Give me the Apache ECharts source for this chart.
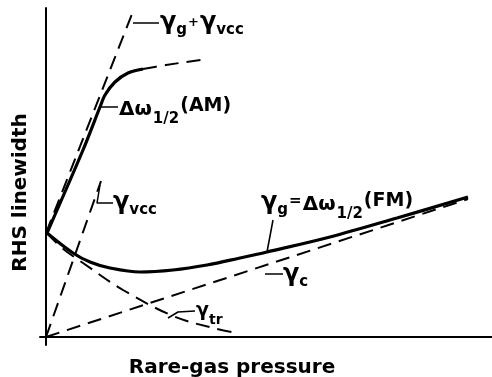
<!DOCTYPE html>
<html><head><meta charset="utf-8">
<script src="https://cdn.jsdelivr.net/npm/echarts@6/dist/echarts.min.js"></script>
<style>html,body{margin:0;padding:0;background:#fff}#c{width:492px;height:377px}</style>
</head><body><div id="c"></div>
<script>
// curves (arbitrary units: pressure on x, linewidth on y)
const sumLine  = [[0,104],[88,328]];                 // γg+γvcc
const amSolid  = [[1,104],[37,187],[54,230],[59,242],[69,255],[82,264],[97,268]];
const amDashed = [[97,268],[120,272],[161,278]];
const fmCurve  = [[1,104],[27,84],[44,75],[64,69],[94,65],[127,67],[161,72],[194,79],[221,85],[284,100],[351,119],[422,140]];
const gammaC   = [[0,0],[422,138]];
const gammaTr  = [[1,104],[16,89],[37,74],[77,47],[127,21],[167,9],[191,4]];
const gammaVcc = [[0,0],[55,156]];
// leader lines
const leaders = [
  [[87,314],[113,314]],
  [[55,230],[72,230]],
  [[54,152],[51,134],[67,134]],
  [[227,117],[221,85]],
  [[219,63],[237,63]],
  [[122,19],[132,25],[149,26]]
];
// labels: anchor (top-left) and rich text
const labelAnchors = [[114,326],[73,241],[67,146],[215,146],[237,74],[150,35]];
const labelTexts = [
  '{g|γ}{s|g}{p|+}{g|γ}{s|vcc}',
  '{d|Δω}{n|1/2}{a|(AM)}',
  '{g|γ}{s|vcc}',
  '{g|γ}{s|g}{e|=}{d|Δω}{n|1/2}{a|(FM)}',
  '{g|γ}{s|c}',
  '{t|γ}{u|tr}'
];
const xName = 'Rare-gas pressure';
const yName = 'RHS linewidth';

const F = 'DejaVu Sans';
const rich = {
  g: {fontFamily:F, fontWeight:'bold', fontSize:24, lineHeight:24, verticalAlign:'top', padding:[0,0,0,0]},
  s: {fontFamily:F, fontWeight:'bold', fontSize:15, lineHeight:15, verticalAlign:'top', padding:[12,0,0,0]},
  p: {fontFamily:F, fontWeight:'bold', fontSize:13, lineHeight:13, verticalAlign:'top', padding:[5,1,0,1]},
  e: {fontFamily:F, fontWeight:'bold', fontSize:15, lineHeight:15, verticalAlign:'top', padding:[3,1,0,1]},
  d: {fontFamily:F, fontWeight:'bold', fontSize:20, lineHeight:20, verticalAlign:'top', padding:[4,0,0,0]},
  n: {fontFamily:F, fontWeight:'bold', fontSize:15, lineHeight:15, verticalAlign:'top', padding:[16,0,0,1]},
  a: {fontFamily:F, fontWeight:'bold', fontSize:19, lineHeight:20, verticalAlign:'top', padding:[1,0,0,1]},
  t: {fontFamily:F, fontWeight:'bold', fontSize:19, lineHeight:19, verticalAlign:'top', padding:[0,0,0,0]},
  u: {fontFamily:F, fontWeight:'bold', fontSize:14, lineHeight:14, verticalAlign:'top', padding:[11,0,0,0]}
};

const chart = echarts.init(document.getElementById('c'));
const dash = {color:'#000', width:2, type:[14,8]};
const solid = {color:'#000', width:3.2};
function ln(data, style, smooth){
  return {type:'line', data, showSymbol:false, symbol:'none', silent:true, smooth: smooth||0, lineStyle:style, z: 3};
}
const series = [
  ln(sumLine, dash),
  ln(amSolid, solid, 0.3),
  ln(amDashed, dash, 0.3),
  ln(fmCurve, solid, 0.35),
  ln(gammaC, dash),
  ln(gammaTr, dash, 0.35),
  ln(gammaVcc, dash)
];
leaders.forEach(l => series.push(ln(l, {color:'#000', width:1.5})));

chart.setOption({
  animation:false,
  backgroundColor:'#fff',
  grid:{left:40, right:0, top:8, bottom:32, containLabel:false, outerBoundsMode:'none'},
  xAxis:{type:'value', min:-6, max:446, splitLine:{show:false}, axisTick:{show:false}, axisLabel:{show:false},
    axisLine:{onZero:true, lineStyle:{color:'#000', width:2}},
    name:xName, nameLocation:'middle', nameGap:13,
    nameTextStyle:{fontFamily:F, fontWeight:'bold', fontSize:20, color:'#000', padding:[0,68,0,0]}},
  yAxis:{type:'value', min:-8, max:329, splitLine:{show:false}, axisTick:{show:false}, axisLabel:{show:false},
    axisLine:{onZero:true, lineStyle:{color:'#000', width:2}},
    name:yName, nameLocation:'middle', nameGap:9,
    nameTextStyle:{fontFamily:F, fontWeight:'bold', fontSize:20, color:'#000', padding:[0,32,0,0]}},
  series
});

const graphic = labelAnchors.map((a, i) => {
  const p = chart.convertToPixel({gridIndex:0}, a);
  return {type:'text', x:p[0], y:p[1], z:10, silent:true,
    style:{text:labelTexts[i], rich, fill:'#000', align:'left', verticalAlign:'top',
      font:'bold 20px "DejaVu Sans"'}};
});
chart.setOption({graphic});
</script></body></html>
